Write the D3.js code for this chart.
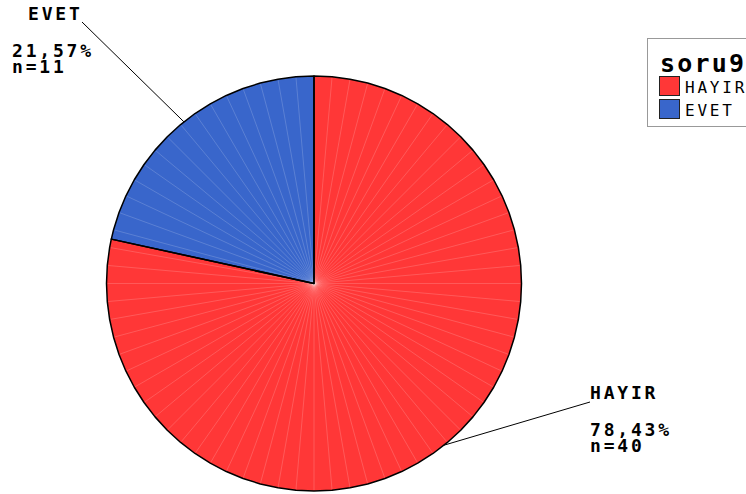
<!DOCTYPE html>
<html><head><meta charset="utf-8">
<script src="https://cdn.jsdelivr.net/npm/d3@7"></script>
<style>html,body{margin:0;padding:0;background:#fff;}</style>
</head><body>
<svg id="chart" width="746" height="494"></svg>
<script>
const categories = ["HAYIR", "EVET"];
const counts = [40, 11];
const percentLabels = ["78,43%", "21,57%"];
const countLabels = ["n=40", "n=11"];
const colors = ["#ff3737", "#3966cb"];
const legendTitle = "soru9";

const svg = d3.select("#chart");
const cx = 314, cy = 283.5, r = 207.5;
const pie = d3.pie().sort(null).value(d => d)(counts);
const rad = d3.scaleLinear().domain([0, 360]).range([0, 2 * Math.PI]);
const step = rad(5);
const pt = (a, rr) => [cx + rr * Math.sin(a), cy - rr * Math.cos(a)];

function slicePts(s) {
  const pts = [[cx, cy], pt(s.startAngle, r)];
  let k = Math.floor(s.startAngle / step + 1e-9) + 1;
  while (k * step < s.endAngle - 1e-9) { pts.push(pt(k * step, r)); k++; }
  pts.push(pt(s.endAngle, r));
  return pts;
}

const g = svg.append("g");
pie.forEach((s, i) => {
  g.append("path").attr("d", d3.line()(slicePts(s)) + "Z")
    .attr("fill", colors[i]).attr("stroke", "none");
  for (let a = Math.ceil(s.startAngle / step) * step; a < s.endAngle; a += step) {
    const p = pt(a, r - 1);
    g.append("line").attr("x1", cx).attr("y1", cy).attr("x2", p[0]).attr("y2", p[1])
      .attr("stroke", "#fff").attr("stroke-opacity", 0.25).attr("stroke-width", 0.7);
  }
});
pie.forEach((s, i) => {
  g.append("path").attr("d", d3.line()(slicePts(s)) + "Z")
    .attr("fill", "none").attr("stroke", "#000").attr("stroke-width", 1.5)
    .attr("stroke-linejoin", "round");
});

// labels
const labelFont = "'DejaVu Sans Mono', monospace";
const labelPos = [
  {lx: 590, ly: 402, tx: 590, ty: 399, px: 590},
  {lx: 82, ly: 22, tx: 28, ty: 20, px: 12}
];
pie.forEach((s, i) => {
  const mid = (s.startAngle + s.endAngle) / 2;
  const p = pt(mid, r);
  const L = labelPos[i];
  svg.append("line").attr("x1", p[0]).attr("y1", p[1]).attr("x2", L.lx).attr("y2", L.ly)
    .attr("stroke", "#000").attr("stroke-width", 1);
  const t = svg.append("text").attr("font-family", labelFont).attr("font-weight", "bold")
    .attr("font-size", 18).attr("letter-spacing", 2.8).attr("fill", "#000");
  t.append("tspan").attr("x", L.tx).attr("y", L.ty).text(categories[i]);
  t.append("tspan").attr("x", L.px).attr("y", L.ty + 36.5).text(percentLabels[i]);
  t.append("tspan").attr("x", L.px).attr("y", L.ty + 53).text(countLabels[i]);
});

// legend
const lg = svg.append("g");
lg.append("rect").attr("x", 647.5).attr("y", 38.5).attr("width", 130).attr("height", 88)
  .attr("fill", "#fff").attr("stroke", "#999").attr("stroke-width", 1);
lg.append("text").attr("x", 660).attr("y", 72).attr("font-family", labelFont)
  .attr("font-weight", "bold").attr("font-size", 25).attr("letter-spacing", 2.2)
  .attr("fill", "#000").text(legendTitle);
const ly = d3.scaleBand().domain(categories).range([75, 121]);
categories.forEach((c, i) => {
  lg.append("rect").attr("x", 659.5).attr("y", ly(c) + 1.5).attr("width", 20).attr("height", 19)
    .attr("fill", colors[i]).attr("stroke", "#222").attr("stroke-width", 1);
  lg.append("text").attr("x", 685).attr("y", ly(c) + 18).attr("font-family", labelFont)
    .attr("font-size", 16).attr("letter-spacing", 2.8).attr("fill", "#000").text(c);
});
</script>
</body></html>
